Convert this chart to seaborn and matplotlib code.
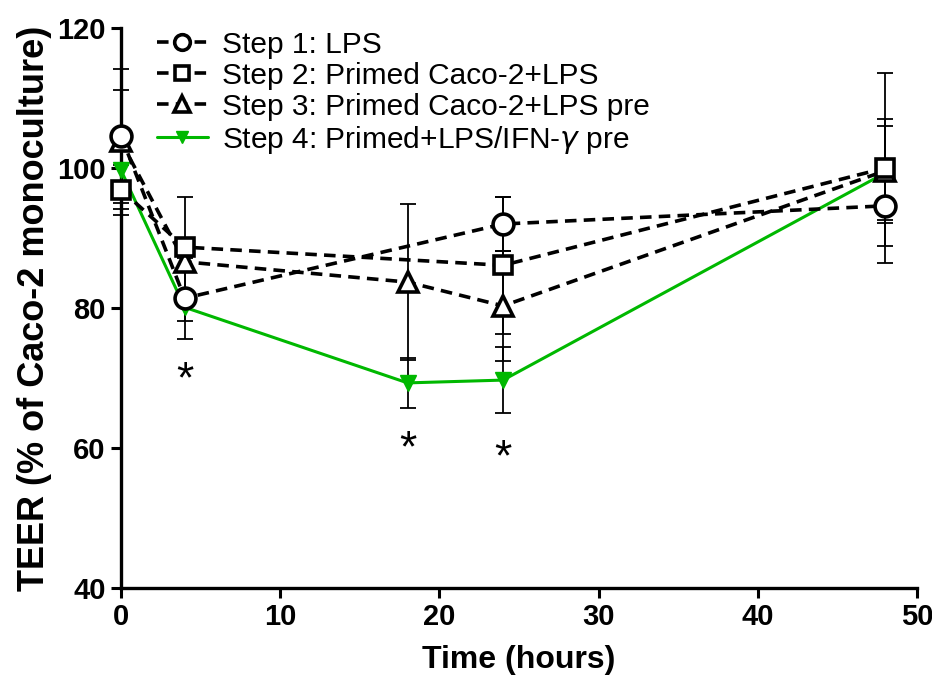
import numpy as np
import pandas as pd
import seaborn as sns
import matplotlib
matplotlib.use("Agg")
import matplotlib.pyplot as plt

sns.set_style("ticks")
plt.rcParams['font.family'] = ['Liberation Sans', 'DejaVu Sans']
plt.rcParams['text.color'] = 'black'
plt.rcParams['axes.labelcolor'] = 'black'

# values
labels = ["Step 1: LPS",
          "Step 2: Primed Caco-2+LPS",
          "Step 3: Primed Caco-2+LPS pre",
          "Step 4: Primed+LPS/IFN-$\\gamma$ pre"]

t_step1 = [0, 4, 24, 48]
y_step1 = [104.6, 81.4, 92.0, 94.6]
e_step1 = [9.6, 5.8, 3.9, 5.8]

t_step2 = [0, 4, 24, 48]
y_step2 = [96.9, 88.7, 86.1, 100.0]
e_step2 = [3.6, 7.2, 9.8, 13.6]

t_step3 = [0, 4, 18, 24, 48]
y_step3 = [103.8, 86.6, 83.7, 80.3, 99.6]
e_step3 = [7.4, 1.3, 11.2, 7.9, 7.4]

t_step4 = [0, 4, 18, 24, 48]
y_step4 = [99.7, 80.1, 69.3, 69.7, 99.3]
e_step4 = [5.5, 2.0, 3.6, 4.7, 6.7]

sig_t = [4, 18, 24]
sig_y = [69.6, 59.8, 58.4]

series = [
    (labels[0], t_step1, y_step1, e_step1),
    (labels[1], t_step2, y_step2, e_step2),
    (labels[2], t_step3, y_step3, e_step3),
    (labels[3], t_step4, y_step4, e_step4),
]

GREEN = "#00b800"
styles = {
    labels[0]: dict(color="black", marker="o", ms=15, mfc="white", mec="black",
                    mew=2.6, ls=(0, (3.2, 2.0)), lw=2.6, z=6),
    labels[1]: dict(color="black", marker="s", ms=13, mfc="white", mec="black",
                    mew=2.6, ls=(0, (3.2, 2.0)), lw=2.6, z=5),
    labels[2]: dict(color="black", marker="^", ms=15, mfc="white", mec="black",
                    mew=2.6, ls=(0, (3.2, 2.0)), lw=2.6, z=4),
    labels[3]: dict(color=GREEN, marker="v", ms=11, mfc=GREEN, mec=GREEN,
                    mew=1, ls="-", lw=2.2, z=3),
}

frames = []
for name, t, y, e in series:
    frames.append(pd.DataFrame({"series": name, "time": t, "teer": y, "sem": e}))
df = pd.concat(frames, ignore_index=True)

fig = plt.figure(figsize=(9.32, 6.77), dpi=100)
ax = fig.add_axes([0.1298, 0.1315, 0.8541, 0.8271])

# error bars first so markers sit over them
for name, t, y, e in series:
    ax.errorbar(t, y, yerr=e, fmt="none", ecolor="black", elinewidth=1.3,
                capsize=6, capthick=1.3, zorder=1, clip_on=False)

handles = {}
for name in [labels[3], labels[2], labels[1], labels[0]]:
    st = styles[name]
    sub = df[df["series"] == name]
    sns.lineplot(data=sub, x="time", y="teer", ax=ax, color=st["color"],
                 marker=st["marker"], markersize=st["ms"],
                 markerfacecolor=st["mfc"], markeredgecolor=st["mec"],
                 markeredgewidth=st["mew"], linestyle=st["ls"],
                 linewidth=st["lw"], zorder=st["z"], label=name,
                 clip_on=False, legend=False)
    handles[name] = ax.lines[-1]

for tx, ty in zip(sig_t, sig_y):
    ax.text(tx, ty, "*", fontsize=32, ha="center", va="center", color="black")

ax.set_xlim(0, 50)
ax.set_ylim(40, 120)
ax.set_xticks([0, 10, 20, 30, 40, 50])
ax.set_yticks([40, 60, 80, 100, 120])
ax.set_xlabel("Time (hours)", fontsize=23, fontweight="bold", labelpad=10)
ax.set_ylabel("TEER (% of Caco-2 monoculture)", fontsize=26,
              fontweight="bold", labelpad=4)
ax.tick_params(axis="both", labelsize=21, width=2.2, length=7, color="black",
               labelcolor="black", pad=4)
for lab in ax.get_xticklabels() + ax.get_yticklabels():
    lab.set_fontweight("bold")
for side in ["left", "bottom"]:
    ax.spines[side].set_linewidth(2.4)
    ax.spines[side].set_color("black")
sns.despine(ax=ax)

leg = ax.legend([handles[n] for n in labels], labels, loc="upper left",
                bbox_to_anchor=(0.045, 0.995), frameon=False, fontsize=21.5,
                handlelength=1.7, handletextpad=0.5, labelspacing=0.1,
                borderpad=0, borderaxespad=0, markerscale=0.75)

fig.savefig("out.png", dpi=100)
